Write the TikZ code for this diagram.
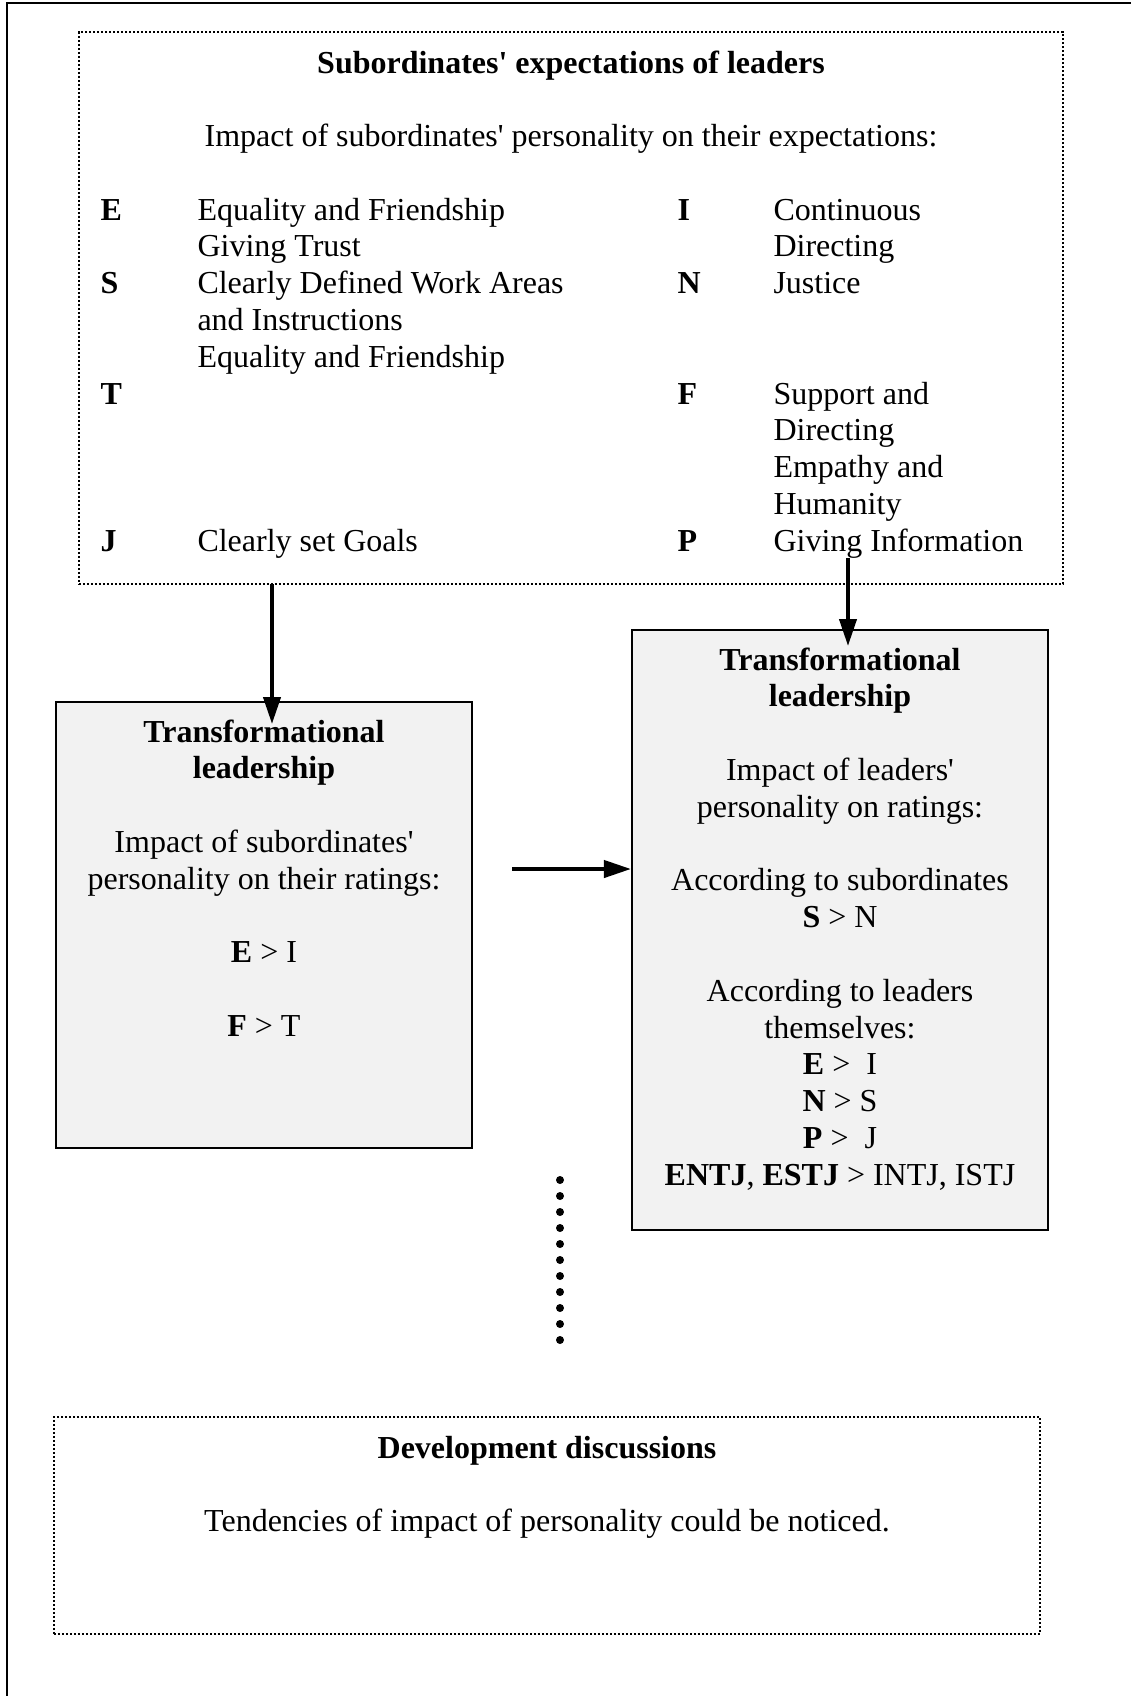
\documentclass[tikz,border=0pt]{standalone}
\usepackage{fontspec}
\setmainfont{Liberation Serif}
\usetikzlibrary{arrows.meta,calc}
\definecolor{boxgray}{gray}{0.95}
\newcommand{\aps}{\textquotesingle}
\tikzset{%
  txt/.style     = {inner sep=0pt, font=\fontsize{12.8}{14.72}\selectfont},%
  ctr/.style     = {txt, anchor=base},%
  head/.style    = {ctr, font=\fontsize{12.8}{14.72}\selectfont\bfseries},%
  cell/.style    = {txt, anchor=base west},%
  dotbox/.style  = {draw, line width=0.5pt, dash pattern=on 0.8pt off 0.8pt, inner sep=0pt},%
  greybox/.style = {draw, line width=0.8pt, fill=boxgray, inner sep=0pt},%
  arr/.style     = {line width=1.6pt, -{Triangle[length=10.8pt,width=6.8pt]}},%
  dotline/.style = {line width=3.2pt, line cap=round, dash pattern=on 0pt off 6.4pt}%
}

\begin{document}
\begin{tikzpicture}[x=0.4pt, y=-0.4pt]%
	\useasboundingbox (0,0) rectangle (1131,1696);
	% page frame
	\draw[line width=0.8pt] (7,1696) -- (7,3) -- (1131,3);
	% boxes
	\node[dotbox, minimum width=393.6pt, minimum height=220.8pt] (subs) at (571,308) {};%
	\node[greybox, minimum width=166.4pt, minimum height=178.4pt] (lbox) at (264,925) {};%
	\node[greybox, minimum width=166.4pt, minimum height=240pt] (rbox) at (840,930) {};%
	\node[dotbox, minimum width=394.4pt, minimum height=86.8pt] (dev) at (547,1525.5) {};%
	% expectations
	\node[head] (subtitle) at (571,73) {Subordinates\aps{} expectations of leaders};%
	\node[ctr] (subsub) at (571,146.6) {Impact of subordinates\aps{} personality on their expectations:};%
	\node[cell] (kE) at (100,220) {\textbf{E}};
	\node[cell] (tE1) at (197,220) {Equality and Friendship};
	\node[cell] (tE2) at (197,256.8) {Giving Trust};
	\node[cell] (kS) at (100,293.6) {\textbf{S}};
	\node[cell] (tS1) at (197,293.6) {Clearly Defined Work Areas};
	\node[cell] (tS2) at (197,330.4) {and Instructions};
	\node[cell] (tS3) at (197,367.2) {Equality and Friendship};
	\node[cell] (kT) at (100,404) {\textbf{T}};
	\node[cell] (kJ) at (100,551.2) {\textbf{J}};
	\node[cell] (tJ) at (197,551.2) {Clearly set Goals};
	\node[cell] (kI) at (677,220) {\textbf{I}};
	\node[cell] (tI1) at (773,220) {Continuous};
	\node[cell] (tI2) at (773,256.8) {Directing};
	\node[cell] (kN) at (677,293.6) {\textbf{N}};
	\node[cell] (tN) at (773,293.6) {Justice};
	\node[cell] (kF) at (677,404) {\textbf{F}};
	\node[cell] (tF1) at (773,404) {Support and};
	\node[cell] (tF2) at (773,440.8) {Directing};
	\node[cell] (tF3) at (773,477.6) {Empathy and};
	\node[cell] (tF4) at (773,514.4) {Humanity};
	\node[cell] (kP) at (677,551.2) {\textbf{P}};
	\node[cell] (tP) at (773,551.2) {Giving Information};
	% left box
	\node[head] (ltitle1) at (264,742) {Transformational};%
	\node[head] (ltitle2) at (264,778.8) {leadership};%
	\node[ctr] (limp1) at (264,852.4) {Impact of subordinates\aps};%
	\node[ctr] (limp2) at (264,889.2) {personality on their ratings:};%
	\node[ctr] (lEI) at (264,962.8) {\textbf{E} > I};%
	\node[ctr] (lFT) at (264,1036.4) {\textbf{F} > T};%
	% right box
	\node[head] (rtitle1) at (840,670) {Transformational};%
	\node[head] (rtitle2) at (840,706.8) {leadership};%
	\node[ctr] (rimp1) at (840,780.4) {Impact of leaders\aps};%
	\node[ctr] (rimp2) at (840,817.2) {personality on ratings:};%
	\node[ctr] (rsub1) at (840,890.8) {According to subordinates};%
	\node[ctr] (rsub2) at (840,927.6) {\textbf{S} > N};%
	\node[ctr] (rlead1) at (840,1001.2) {According to leaders};%
	\node[ctr] (rlead2) at (840,1038) {themselves:};%
	\node[ctr] (rEI) at (840,1074.8) {\textbf{E} > ~I};%
	\node[ctr] (rNS) at (840,1111.6) {\textbf{N} > S};%
	\node[ctr] (rPJ) at (840,1148.4) {\textbf{P} > ~J};%
	\node[ctr] (rtype) at (840,1185.2) {\textbf{ENTJ}, \textbf{ESTJ} > INTJ, ISTJ};%
	% development
	\node[head] (devtitle) at (547,1458) {Development discussions};%
	\node[ctr] (devtext) at (547,1531.6) {Tendencies of impact of personality could be noticed.};%
	% arrows
	\coordinate (la) at (272,584);
	\coordinate (ra) at (848,558);
	\coordinate (ha) at (512,869);
	\draw[arr, shorten >=-9.2pt] (la) -- (la |- lbox.north);
	\draw[arr, shorten >=-6.8pt] (ra) -- (ra |- rbox.north);
	\draw[arr] (ha) -- (ha -| rbox.west);
	% dotted link
	\coordinate (dt) at (560,1180);
	\coordinate (db) at (560,1356);
	\draw[dotline] (dt) -- (db);
\end{tikzpicture}
\end{document}
